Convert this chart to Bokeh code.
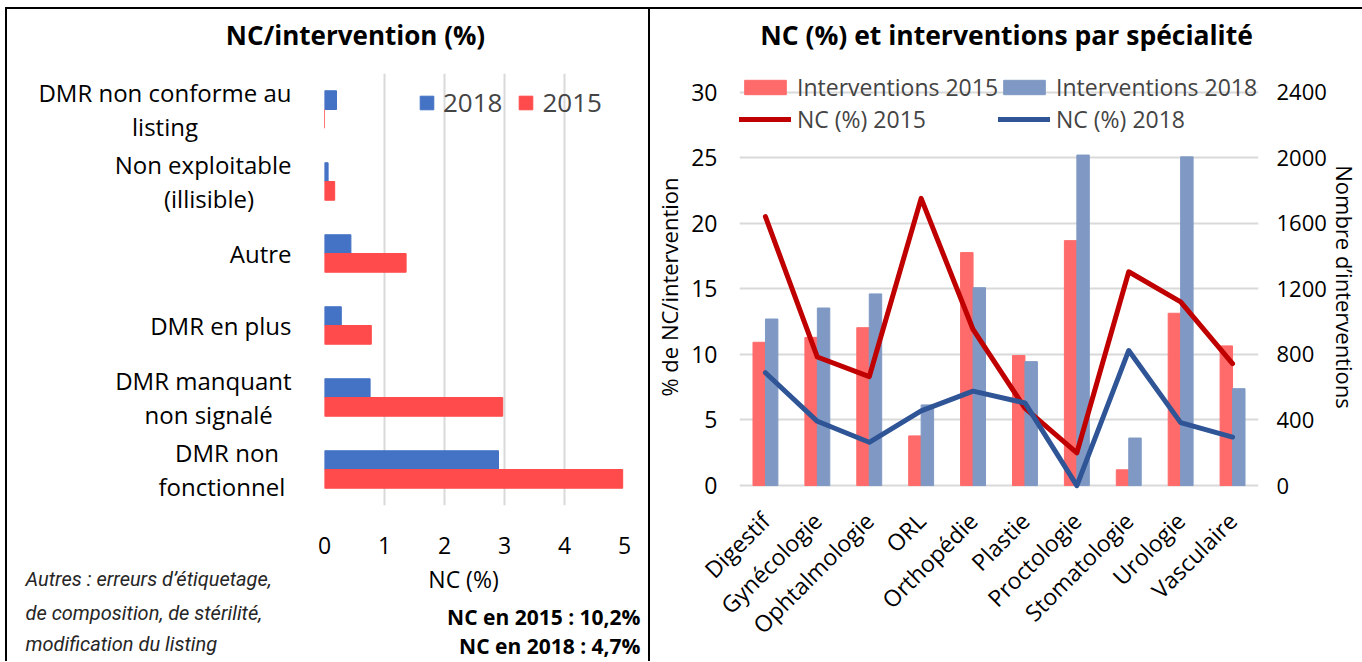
from bokeh.plotting import figure
from bokeh.models import (FactorRange, Range1d, LinearAxis, FixedTicker, Legend,
                          LegendItem, Label, ColumnDataSource)
from bokeh.transform import dodge
from bokeh.layouts import row, column
from bokeh.embed import file_html
from bokeh.resources import INLINE
from math import pi

FONT = "Open Sans"
NBSP = "\u00a0"

# ---------------- Left chart data ----------------
nc_categories = ["DMR non\nfonctionnel", "DMR manquant\nnon signalé", "DMR en plus",
                 "Autre", "Non exploitable\n(illisible)", "DMR non conforme au\nlisting"]
nc_2018 = [2.90, 0.76, 0.28, 0.44, 0.06, 0.20]
nc_2015 = [4.97, 2.97, 0.78, 1.36, 0.17, 0.0]
nc_ticks = [0, 1, 2, 3, 4, 5]
left_title = "NC/intervention (%)"
left_xlabel = "NC (%)"
left_notes = ["Autres : erreurs d’étiquetage,", "de composition, de stérilité,",
              "modification du listing"]
totals = ["NC en 2015 : 10,2%", "NC en 2018 : 4,7%"]

# ---------------- Right chart data ----------------
specialites = ["Digestif", "Gynécologie", "Ophtalmologie", "ORL", "Orthopédie",
               "Plastie", "Proctologie", "Stomatologie", "Urologie", "Vasculaire"]
interv_2015 = [874, 904, 963, 303, 1421, 793, 1494, 96, 1051, 852]
interv_2018 = [1016, 1083, 1169, 492, 1207, 756, 2016, 290, 2005, 591]
nc_pct_2015 = [20.5, 9.8, 8.3, 21.9, 11.9, 5.9, 2.5, 16.3, 14.0, 9.3]
nc_pct_2018 = [8.6, 4.9, 3.3, 5.7, 7.2, 6.3, 0.0, 10.3, 4.8, 3.7]
pct_ticks = [0, 5, 10, 15, 20, 25, 30]
interv_ticks = [0, 400, 800, 1200, 1600, 2000, 2400]
right_title = "NC (%) et interventions par spécialité"

BLUE = "#4472C4"
RED = "#FF4B4B"
RED_BAR = "#FF6B6B"
BLUE_BAR = "#7F99C4"
RED_LINE = "#C00000"
BLUE_LINE = "#2F5597"
GRID = "#D9D9D9"
BORDER = "2px solid black"

# trailing (non-breaking) padding so wrapped label lines look centred as in the original
label_pad = {"DMR non\nfonctionnel": (2, 1), "DMR manquant\nnon signalé": (0, 3),
             "Non exploitable\n(illisible)": (0, 6),
             "DMR non conforme au\nlisting": (0, 15)}


def padded(c):
    if c not in label_pad:
        return c
    a, b = label_pad[c]
    l1, l2 = c.split("\n")
    return l1 + NBSP * a + "\n" + l2 + NBSP * b


cat_labels = [padded(c) for c in nc_categories]


def text_strip(w, h):
    f = figure(width=w, height=h, output_backend="svg", toolbar_location=None,
               x_range=Range1d(0, 1), y_range=Range1d(0, 1), min_border=0, title=None)
    f.axis.visible = False
    f.grid.visible = False
    f.outline_line_color = None
    f.frame_align = False
    return f


# ---- title strip (left) ----
t0 = text_strip(645, 56)
t0.add_layout(Label(x=348, y=31, x_units="screen", y_units="screen", text=left_title,
                    text_font=FONT, text_font_style="bold", text_font_size="26px",
                    text_align="center", text_baseline="middle", text_color="black"))
t0.styles = {"border-left": BORDER, "border-top": BORDER, "border-right": BORDER}

# ================= Left figure =================
src1 = ColumnDataSource(dict(cat=cat_labels, v18=nc_2018, v15=nc_2015))
p1 = figure(width=645, height=500, output_backend="svg", toolbar_location=None,
            y_range=FactorRange(factors=cat_labels), x_range=Range1d(0, 5),
            min_border_left=317, min_border_right=28, min_border_top=10,
            min_border_bottom=58, title=None)
r18 = p1.hbar(y=dodge("cat", 0.13, range=p1.y_range), left=0, right="v18", height=0.26,
              color=BLUE, source=src1)
r15 = p1.hbar(y=dodge("cat", -0.13, range=p1.y_range), left=0, right="v15", height=0.26,
              color=RED, source=src1)

p1.outline_line_color = None
p1.ygrid.grid_line_color = None
p1.xgrid.grid_line_color = GRID
p1.xgrid.grid_line_width = 2
p1.xaxis.ticker = FixedTicker(ticks=nc_ticks)
for ax in (p1.xaxis[0], p1.yaxis[0]):
    ax.axis_line_color = None
    ax.major_tick_line_color = None
    ax.minor_tick_line_color = None
    ax.major_label_text_font = FONT
    ax.major_label_text_color = "black"
p1.xaxis.major_label_text_font_size = "23px"
p1.xaxis.major_label_standoff = 25
p1.yaxis.major_label_text_font_size = "24px"
p1.yaxis.major_label_standoff = 27
p1.yaxis.major_label_text_line_height = 1.05

leg1 = Legend(items=[LegendItem(label="2018", renderers=[r18]),
                     LegendItem(label="2015", renderers=[r15])],
              orientation="horizontal", location=(94, 385), glyph_width=17,
              glyph_height=17, label_text_font=FONT, label_text_font_size="26px",
              spacing=15, label_standoff=8, padding=0, margin=0,
              border_line_color=None, background_fill_alpha=0)
p1.add_layout(leg1)
p1.styles = {"border-left": BORDER, "border-right": BORDER}

# ---- text strip under the left chart ----
t1 = text_strip(645, 98)
t1.add_layout(Label(x=456, y=83, x_units="screen", y_units="screen", text=left_xlabel,
                    text_font=FONT, text_font_size="23px", text_align="center",
                    text_baseline="middle", text_color="black"))
for t, yy in zip(left_notes, [83, 49, 18]):
    t1.add_layout(Label(x=18, y=yy, x_units="screen", y_units="screen",
                        text=t, text_font="Roboto", text_color="#262626",
                        text_font_style="italic", text_font_size="20px",
                        text_align="left", text_baseline="middle"))
for t, yy in zip(totals, [45, 16]):
    t1.add_layout(Label(x=633, y=yy, x_units="screen", y_units="screen",
                        text=t, text_font=FONT, text_font_style="bold",
                        text_font_size="21px", text_align="right",
                        text_baseline="middle", text_color="black"))
t1.styles = {"border-left": BORDER, "border-right": BORDER}

# ---- title strip (right) ----
t2 = text_strip(712, 56)
t2.add_layout(Label(x=356, y=31, x_units="screen", y_units="screen", text=right_title,
                    text_font=FONT, text_font_style="bold", text_font_size="26.5px",
                    text_align="center", text_baseline="middle", text_color="black"))
t2.styles = {"border-top": BORDER}

# ================= Right figure =================
src2 = ColumnDataSource(dict(spec=specialites, i15=interv_2015, i18=interv_2018,
                             n15=nc_pct_2015, n18=nc_pct_2018))
Y0, Y1 = -1.52, 31.8
p2 = figure(width=712, height=596, output_backend="svg", toolbar_location=None,
            x_range=FactorRange(factors=specialites), y_range=Range1d(Y0, Y1),
            min_border_left=89, min_border_right=103, min_border_top=5,
            min_border_bottom=154, title=None)
p2.extra_y_ranges = {"n": Range1d(Y0 * 80, Y1 * 80)}
b15 = p2.vbar(x=dodge("spec", -0.12, range=p2.x_range), top="i15", bottom=0, width=0.24,
              color=RED_BAR, y_range_name="n", source=src2)
b18 = p2.vbar(x=dodge("spec", 0.12, range=p2.x_range), top="i18", bottom=0, width=0.24,
              color=BLUE_BAR, y_range_name="n", source=src2)
l15 = p2.line(x="spec", y="n15", line_color=RED_LINE, line_width=5, line_join="round",
              line_cap="round", source=src2)
l18 = p2.line(x="spec", y="n18", line_color=BLUE_LINE, line_width=5, line_join="round",
              line_cap="round", source=src2)

ax_r = LinearAxis(y_range_name="n", ticker=FixedTicker(ticks=interv_ticks),
                  axis_label="Nombre d’interventions")
p2.add_layout(ax_r, "right")
p2.yaxis[0].ticker = FixedTicker(ticks=pct_ticks)
p2.yaxis[0].axis_label = "% de NC/intervention"
p2.outline_line_color = None
p2.xgrid.grid_line_color = None
p2.ygrid.grid_line_color = GRID
p2.ygrid.grid_line_width = 2
for ax in (p2.xaxis[0], p2.yaxis[0], ax_r):
    ax.axis_line_color = None
    ax.major_tick_line_color = None
    ax.minor_tick_line_color = None
    ax.major_label_text_font = FONT
    ax.major_label_text_font_size = "23px"
    ax.major_label_text_color = "black"
    ax.axis_label_text_font = FONT
    ax.axis_label_text_font_style = "normal"
    ax.axis_label_text_font_size = "22px"
    ax.axis_label_text_color = "black"
p2.yaxis[0].major_label_standoff = 16
p2.yaxis[0].axis_label_standoff = 4
ax_r.major_label_text_font_size = "22px"
ax_r.major_label_standoff = 12
ax_r.axis_label_standoff = 0
p2.xaxis.major_label_orientation = pi / 4
p2.xaxis.major_label_text_font_size = "23px"
p2.xaxis.major_label_standoff = 5

leg2 = Legend(items=[LegendItem(label="Interventions 2015", renderers=[b15]),
                     LegendItem(label="Interventions 2018", renderers=[b18]),
                     LegendItem(label="NC (%) 2015", renderers=[l15]),
                     LegendItem(label="NC (%) 2018", renderers=[l18])],
              orientation="horizontal", ncols=2, location=(0, 370),
              glyph_width=52, glyph_height=18, label_width=198,
              label_text_font=FONT, label_text_font_size="23px", spacing=0,
              label_standoff=6, padding=0, margin=0, border_line_color=None,
              background_fill_alpha=0)
p2.add_layout(leg2)

for f in (p1, p2):
    f.frame_align = False

left = column(t0, p1, t1)
right = column(t2, p2)
layout = row(left, right, margin=(7, 0, 0, 5))
open("out.html", "w").write(file_html(layout, INLINE))
